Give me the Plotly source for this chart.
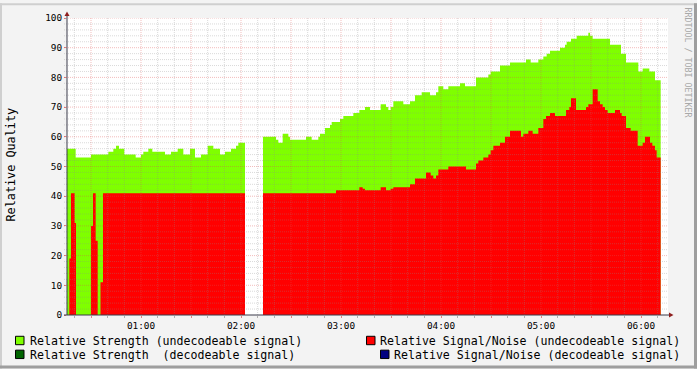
import plotly.graph_objects as go

# ---------------- data (minutes after midnight, value holds until next time) ----------------
strength_t = [15.6, 20.8, 30.0, 40.4, 43.4, 45.0, 46.8, 50.0, 56.8, 60.0,
              61.4, 64.4, 66.8, 74.4, 78.0, 82.0, 85.4, 89.4, 92.4, 96.0,
              100.0, 103.4, 107.4, 110.4, 114.0, 117.0, 118.4, 122.4, 133.2, 141.0,
              142.4, 145.0, 148.4, 149.4, 159.0, 162.4, 166.4, 167.4, 170.4, 173.4,
              174.4, 179.4, 181.4, 187.4, 191.0, 194.4, 197.4, 203.8, 207.0, 208.4,
              209.8, 211.4, 217.4, 221.4, 224.4, 228.4, 233.4, 237.0, 238.4, 241.4,
              244.4, 251.4, 254.4, 261.0, 268.4, 269.8, 275.4, 281.4, 291.0, 293.8,
              298.4, 301.4, 303.4, 305.4, 311.4, 314.4, 315.4, 318.0, 321.4, 328.4,
              329.4, 331.0, 341.4, 348.0, 351.0, 358.4, 361.0, 365.0, 368.4]
strength_v = [56, 53, 54, 55, 56, 57, 56, 54, 53, 54,
              55, 56, 55, 54, 55, 56, 54, 56, 53, 54,
              57, 56, 54, 55, 56, 57, 58, None, 60, 59,
              58, 61, 60, 59, 60, 59, 60, 61, 63, 64,
              65, 66, 67, 68, 69, 70, 69, 71, 70, 69,
              70, 72, 71, 72, 74, 75, 74, 75, 77, 76,
              77, 78, 77, 80, 81, 82, 84, 85, 86, 85,
              86, 87, 88, 89, 90, 91, 92, 93, 94, 95,
              94, 93, 91, 88, 85, 82, 83, 82, 79]

snr_t = [15.6, 17.0, 18.0, 20.2, 21.0, 30.0, 31.2, 32.8, 34.0, 35.7,
         37.2, 122.4, 133.2, 177.0, 191.0, 193.0, 194.4, 203.8, 207.0, 209.8,
         211.4, 221.4, 224.4, 231.0, 233.8, 235.4, 237.0, 238.4, 244.4, 255.0,
         261.0, 262.4, 265.4, 268.4, 269.8, 271.4, 275.4, 278.4, 281.4, 288.0,
         289.4, 292.4, 295.0, 298.4, 301.4, 303.0, 305.4, 308.4, 315.0, 317.0,
         318.0, 321.0, 327.0, 328.4, 331.0, 334.0, 335.4, 337.0, 338.4, 340.0,
         344.4, 347.4, 348.4, 351.0, 353.8, 358.0, 361.0, 362.4, 365.4, 366.8,
         368.4, 369.4]
snr_v = [0, 19, 41, 31, 0, 30, 41, 25, 0, 11,
         41, None, 41, 42, 43, 42.5, 42, 43, 42, 42.5,
         43, 44, 46, 48, 47, 46, 47, 49, 50, 49,
         51, 52, 53, 54, 55.5, 57, 58, 60, 62, 60,
         61, 62, 61, 63, 66, 67, 68, 67, 69, 70,
         73, 69, 70, 71, 76, 72, 71, 70, 69, 68,
         69, 68, 67, 63, 62, 57, 58, 60, 58, 57,
         55.5, 53]
data_end = 371.8

x_start, x_end = 15.6, 376.2
major_x = [30, 60, 90, 120, 150, 180, 210, 240, 270, 300, 330, 360]
x_labels = ["", "01:00", "", "02:00", "", "03:00", "", "04:00", "", "05:00", "", "06:00"]
y_ticks = [0, 10, 20, 30, 40, 50, 60, 70, 80, 90, 100]

legend_names = ["Relative Strength (undecodeable signal)",
                "Relative Signal/Noise (undecodeable signal)",
                "Relative Strength  (decodeable signal)",
                "Relative Signal/Noise (decodeable signal)"]
legend_colors = ["#7FFF00", "#FF0000", "#006400", "#000080"]

# ---------------- geometry helpers ----------------
W, H = 697, 369
L, R, T, B = 67, 668, 15, 315


def PX(px):
    return (px - L) / (R - L)


def PY(py):
    return (B - py) / (B - T)


def step_segments(ts, vs, end):
    """Split a step series into contiguous segments (unknown values break it)."""
    segs, xs, ys = [], [], []
    n = min(len(ts), len(vs))
    for i in range(n):
        t0 = ts[i]
        t1 = ts[i + 1] if i + 1 < n else end
        v = vs[i]
        if v is None:
            if xs:
                segs.append((xs, ys))
            xs, ys = [], []
        else:
            xs += [t0, t1]
            ys += [v, v]
    if xs:
        segs.append((xs, ys))
    return segs


fig = go.Figure()
for ts, vs, col, name in [(strength_t, strength_v, "#7FFF00", legend_names[0]),
                          (snr_t, snr_v, "#FF0000", legend_names[1])]:
    for xs, ys in step_segments(ts, vs, data_end):
        fig.add_trace(go.Scatter(x=xs, y=ys, mode="lines", line=dict(width=0), fill="tozeroy",
                                 fillcolor=col, showlegend=False, name=name))

shapes = []
MINOR = "rgba(140,140,140,0.32)"
MAJOR = "rgba(222,80,80,0.38)"
DOT = "1px,1px"
# grid (drawn above the areas, like rrdtool)
for m in range(20, 371, 10):
    if m % 30 != 0:
        shapes.append(dict(type="line", xref="x", yref="y", x0=m, x1=m, y0=0, y1=100,
                           line=dict(color=MINOR, width=1, dash=DOT), layer="above"))
for m in major_x:
    shapes.append(dict(type="line", xref="x", yref="y", x0=m, x1=m, y0=0, y1=100,
                       line=dict(color=MAJOR, width=1, dash=DOT), layer="above"))
for v in range(2, 100, 2):
    if v % 10 != 0:
        shapes.append(dict(type="line", xref="paper", yref="y", x0=PX(64), x1=1, y0=v, y1=v,
                           line=dict(color=MINOR, width=1, dash=DOT), layer="above"))
for v in y_ticks[1:]:
    shapes.append(dict(type="line", xref="paper", yref="y", x0=PX(64), x1=1, y0=v, y1=v,
                       line=dict(color=MAJOR, width=1, dash=DOT), layer="above"))

AX = "#3a3a4a"
ARROW = "#8f1f1f"
# axes with arrows
shapes.append(dict(type="line", xref="paper", yref="paper", x0=PX(67), x1=PX(67), y0=PY(315), y1=PY(11),
                   line=dict(color=AX, width=1), layer="above"))
shapes.append(dict(type="line", xref="paper", yref="paper", x0=PX(64), x1=PX(671), y0=PY(315), y1=PY(315),
                   line=dict(color=AX, width=1), layer="above"))
shapes.append(dict(type="path", xref="paper", yref="paper",
                   path=f"M {PX(64.5)} {PY(13)} L {PX(69.5)} {PY(13)} L {PX(67)} {PY(8.5)} Z",
                   fillcolor=ARROW, line=dict(width=0), layer="above"))
shapes.append(dict(type="path", xref="paper", yref="paper",
                   path=f"M {PX(669)} {PY(312.5)} L {PX(669)} {PY(317.5)} L {PX(673.5)} {PY(315)} Z",
                   fillcolor=ARROW, line=dict(width=0), layer="above"))

# frame bevel
shapes.append(dict(type="rect", xref="paper", yref="paper", x0=PX(0), x1=PX(697), y0=PY(0), y1=PY(2),
                   fillcolor="#CFCFCF", line=dict(width=0), layer="below"))
shapes.append(dict(type="rect", xref="paper", yref="paper", x0=PX(0), x1=PX(2), y0=PY(0), y1=PY(369),
                   fillcolor="#CFCFCF", line=dict(width=0), layer="below"))
shapes.append(dict(type="rect", xref="paper", yref="paper", x0=PX(0), x1=PX(697), y0=PY(366), y1=PY(369),
                   fillcolor="#9E9E9E", line=dict(width=0), layer="below"))
shapes.append(dict(type="rect", xref="paper", yref="paper", x0=PX(694), x1=PX(697), y0=PY(0), y1=PY(369),
                   fillcolor="#9E9E9E", line=dict(width=0), layer="below"))

FONT = "DejaVu Sans Mono"
annotations = []
# legend
leg_pos = [(15, 341, 30), (366, 341, 380), (15, 355, 30), (380, 355, 394)]
for (bx, cy, tx), name, col in zip(leg_pos, legend_names, legend_colors):
    shapes.append(dict(type="rect", xref="paper", yref="paper",
                       x0=PX(bx + 0.5), x1=PX(bx + 9), y0=PY(cy - 4.5), y1=PY(cy + 4),
                       fillcolor=col, line=dict(color="black", width=1), layer="above"))
    annotations.append(dict(xref="paper", yref="paper", x=PX(tx), y=PY(cy), text=name,
                            showarrow=False, xanchor="left", yanchor="middle", borderpad=0,
                            borderwidth=0,
                            font=dict(family=FONT, size=11.6, color="black")))

annotations.append(dict(xref="paper", yref="paper", x=PX(11), y=PY(163), text="Relative Quality",
                        textangle=-90, showarrow=False, xanchor="center", yanchor="middle",
                        font=dict(family=FONT, size=11.8, color="black")))
annotations.append(dict(xref="paper", yref="paper", x=PX(688), y=PY(60), text="RRDTOOL / TOBI OETIKER",
                        textangle=90, showarrow=False, xanchor="center", yanchor="middle",
                        font=dict(family=FONT, size=8.3, color="#A8A8A8")))

fig.update_layout(
    width=W, height=H,
    margin=dict(l=L, r=W - R, t=T, b=H - B, pad=0),
    paper_bgcolor="#F3F3F3", plot_bgcolor="#FFFFFF",
    shapes=shapes, annotations=annotations, showlegend=False,
    font=dict(family=FONT, color="black"),
)
fig.update_xaxes(range=[x_start, x_end], tickmode="array", tickvals=major_x, ticktext=x_labels,
                 showgrid=False, zeroline=False, showline=False,
                 ticks="outside", ticklen=2, tickcolor="#E08080", tickwidth=1,
                 tickfont=dict(family=FONT, size=9.4, color="black"),
                 minor=dict(tickmode="array", tickvals=[m for m in range(20, 371, 10) if m % 30],
                            ticks="outside", ticklen=2, tickcolor="#B0B0B0", showgrid=False))
fig.update_yaxes(range=[0, 100], tickmode="array", tickvals=y_ticks,
                 showgrid=False, zeroline=False, showline=False,
                 ticks="outside", ticklen=2, tickcolor="#E08080",
                 tickfont=dict(family=FONT, size=9.4, color="black"))

fig.write_html("out.html")
